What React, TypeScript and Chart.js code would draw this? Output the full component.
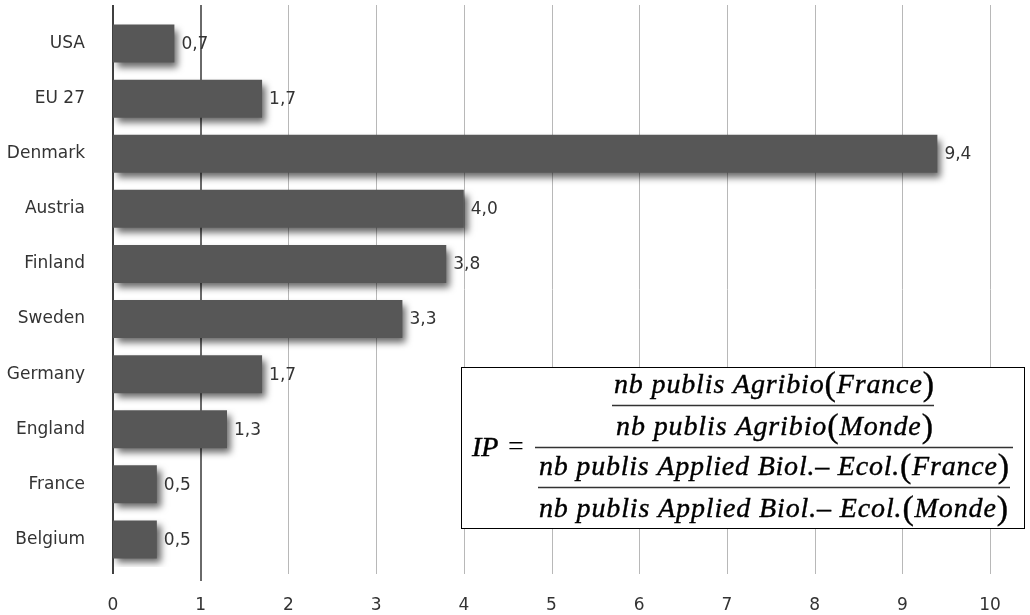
import React, { useEffect, useRef } from "react";
import { Chart, registerables } from "chart.js";

Chart.register(...registerables);

const categories = ["USA", "EU 27", "Denmark", "Austria", "Finland", "Sweden", "Germany", "England", "France", "Belgium"];
const values = [0.7, 1.7, 9.4, 4.0, 3.8, 3.3, 1.7, 1.3, 0.5, 0.5];
const xTicks = [0, 1, 2, 3, 4, 5, 6, 7, 8, 9, 10];

const formulaLines = [
  "nb publis Agribio(France)",
  "nb publis Agribio(Monde)",
  "nb publis Applied Biol.– Ecol.(France)",
  "nb publis Applied Biol.– Ecol.(Monde)",
];

const SANS = "'DejaVu Sans', Verdana, sans-serif";
const SERIF = "'Liberation Serif', 'Times New Roman', serif";

function drawMath(ctx: CanvasRenderingContext2D, text: string, x0: number, x1: number, baseline: number) {
  const chars = Array.from(text);
  const isParen = (c: string) => c === "(" || c === ")";
  const fontFor = (c: string) => (isParen(c) ? `normal 34px ${SERIF}` : `italic 28px ${SERIF}`);
  let total = 0;
  const widths = chars.map((c) => {
    ctx.font = fontFor(c);
    const w = ctx.measureText(c).width;
    total += w;
    return w;
  });
  const extra = chars.length > 1 ? (x1 - x0 - total) / (chars.length - 1) : 0;
  let x = x0;
  chars.forEach((c, i) => {
    ctx.font = fontFor(c);
    const dy = isParen(c) ? 2 : 0;
    ctx.fillText(c, x, baseline + dy);
    ctx.strokeText(c, x, baseline + dy);
    x += widths[i] + extra;
  });
}

const gridPlugin = {
  id: "customGrid",
  beforeDatasetsDraw(chart: any) {
    const ctx = chart.ctx;
    const xs = chart.scales.x;
    ctx.save();
    xTicks.forEach((v) => {
      const px = Math.round(xs.getPixelForValue(v));
      ctx.beginPath();
      if (v === 0) {
        ctx.strokeStyle = "#000";
        ctx.lineWidth = 1.5;
        ctx.moveTo(px, 5);
        ctx.lineTo(px, 574);
      } else if (v === 1) {
        ctx.strokeStyle = "#6a6a6a";
        ctx.lineWidth = 2;
        ctx.moveTo(px, 5);
        ctx.lineTo(px, 581);
      } else {
        ctx.strokeStyle = "#b8b8b8";
        ctx.lineWidth = 1;
        ctx.moveTo(px + 0.5, 5);
        ctx.lineTo(px + 0.5, 574);
      }
      ctx.stroke();
    });
    ctx.restore();
  },
  beforeDatasetDraw(chart: any) {
    const ctx = chart.ctx;
    ctx.save();
    ctx.shadowColor = "rgba(0,0,0,0.6)";
    ctx.shadowBlur = 7;
    ctx.shadowOffsetX = 4;
    ctx.shadowOffsetY = 5;
  },
  afterDatasetDraw(chart: any) {
    chart.ctx.restore();
  },
  afterDatasetsDraw(chart: any) {
    const ctx = chart.ctx;
    const meta = chart.getDatasetMeta(0);
    ctx.save();
    ctx.font = `17px ${SANS}`;
    ctx.fillStyle = "#333";
    ctx.textAlign = "left";
    ctx.textBaseline = "middle";
    meta.data.forEach((bar: any, i: number) => {
      const label = values[i].toFixed(1).replace(".", ",");
      ctx.fillText(label, bar.x + 7, bar.y + 1);
    });
    ctx.restore();
  },
  afterDraw(chart: any) {
    const ctx = chart.ctx;
    ctx.save();
    ctx.fillStyle = "#fff";
    ctx.fillRect(461, 367, 564, 162);
    ctx.strokeStyle = "#000";
    ctx.lineWidth = 1;
    ctx.strokeRect(461.5, 367.5, 563, 161);
    ctx.fillStyle = "#000";
    ctx.strokeStyle = "#000";
    ctx.lineWidth = 0.4;
    ctx.textAlign = "left";
    ctx.textBaseline = "alphabetic";
    drawMath(ctx, formulaLines[0], 614, 934, 393);
    drawMath(ctx, formulaLines[1], 616, 933, 435);
    drawMath(ctx, formulaLines[2], 539, 1009, 475);
    drawMath(ctx, formulaLines[3], 539, 1008, 517);
    ctx.strokeStyle = "#333";
    ctx.lineWidth = 1.3;
    ctx.beginPath();
    ctx.moveTo(612, 405.5);
    ctx.lineTo(934, 405.5);
    ctx.moveTo(535, 447.5);
    ctx.lineTo(1013, 447.5);
    ctx.moveTo(538, 487.5);
    ctx.lineTo(1010, 487.5);
    ctx.stroke();
    ctx.fillStyle = "#000";
    ctx.strokeStyle = "#000";
    ctx.lineWidth = 0.5;
    ctx.font = `italic 28px ${SERIF}`;
    ctx.fillText("IP", 472, 456);
    ctx.strokeText("IP", 472, 456);
    ctx.font = `normal 28px ${SERIF}`;
    ctx.fillText("=", 508, 455);
    ctx.restore();
  },
};

export default function App() {
  const canvasRef = useRef<HTMLCanvasElement | null>(null);

  useEffect(() => {
    if (!canvasRef.current) return;
    const chart = new Chart(canvasRef.current, {
      type: "bar",
      data: {
        labels: categories,
        datasets: [
          {
            data: values,
            backgroundColor: "#575757",
            borderWidth: 0,
            categoryPercentage: 1,
            barPercentage: 0.69,
          },
        ],
      },
      options: {
        indexAxis: "y",
        animation: false,
        responsive: true,
        maintainAspectRatio: false,
        layout: { padding: { top: 16, right: 40, bottom: 0, left: 0 } },
        plugins: {
          legend: { display: false },
          tooltip: { enabled: false },
        },
        scales: {
          y: {
            type: "category",
            grid: { display: false },
            border: { display: false },
            ticks: {
              color: "#333",
              font: { family: SANS, size: 17 },
              padding: 20,
            },
            afterFit(scale: any) {
              scale.width = 113;
              scale.paddingTop = 0;
              scale.paddingBottom = 0;
            },
          },
          x: {
            type: "linear",
            min: 0,
            max: 10,
            grid: { display: false },
            border: { display: false },
            ticks: {
              stepSize: 1,
              color: "#333",
              font: { family: SANS, size: 17 },
              padding: 20,
            },
            afterFit(scale: any) {
              scale.height = 48;
            },
          },
        },
      },
      plugins: [gridPlugin],
    });
    return () => chart.destroy();
  }, []);

  return (
    <div style={{ position: "absolute", left: 0, top: 0, width: 1030, height: 615, background: "#fff" }}>
      <canvas ref={canvasRef} />
    </div>
  );
}
